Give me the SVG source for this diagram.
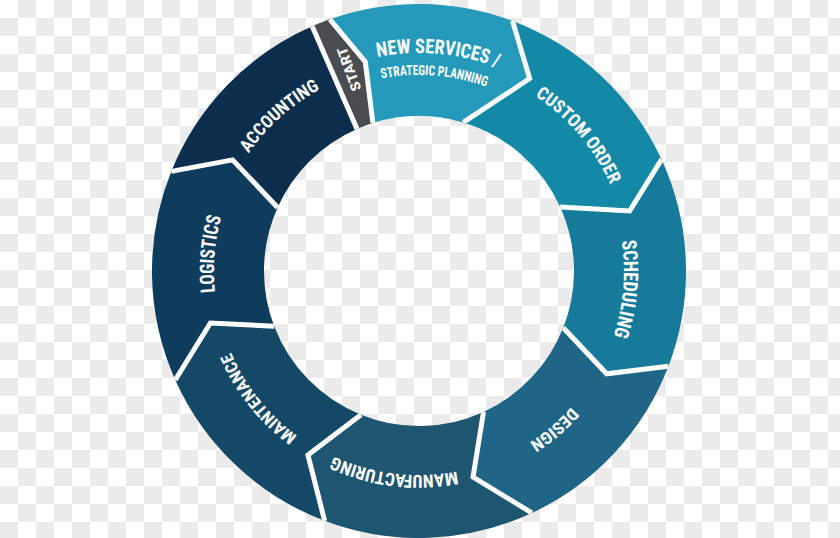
<svg xmlns="http://www.w3.org/2000/svg" width="840" height="538" viewBox="0 0 840 538">
  <defs>
    <pattern id="chk" width="36" height="36" patternUnits="userSpaceOnUse">
      <rect width="36" height="36" fill="#ffffff"/>
      <rect x="18" y="0" width="18" height="18" fill="#ebebeb"/>
      <rect x="0" y="18" width="18" height="18" fill="#ebebeb"/>
    </pattern>
    <clipPath id="ring">
      <path clip-rule="evenodd" d="M419,4 A267,267 0 1 1 418.99,4 Z M419,116 A155,155 0 1 0 419.01,116 Z"/>
    </clipPath>
    <path id="p-new" d="M264.85,116.85 A218,218 0 0 1 597.58,145.96"/>
    <path id="p-str" d="M279.20,133.62 A196,196 0 0 1 578.57,157.18"/>
    <path id="p-cus" d="M417.53,61.00 A210,210 0 0 1 626.06,306.02"/>
    <path id="p-sch" d="M563.96,126.04 A205,205 0 0 1 536.58,438.93"/>
    <path id="p-des" d="M622.99,269.22 A204,204 0 0 1 385.33,472.20"/>
    <path id="p-man" d="M558.13,420.20 A204,204 0 0 1 247.91,382.11"/>
    <path id="p-mai" d="M413.63,475.93 A205,205 0 0 1 218.12,230.13"/>
    <path id="p-log" d="M274.81,416.71 A205,205 0 0 1 300.54,103.69"/>
    <path id="p-acc" d="M212.13,278.22 A207,207 0 0 1 447.81,66.01"/>
  </defs>
  <style>
    .lbl { fill: #ffffff; font-family: "Liberation Sans Narrow", "Roboto Condensed", "DejaVu Sans Condensed", "Liberation Sans", sans-serif; font-weight: 700; text-anchor: middle; }
    .gap { fill: none; stroke: #ffffff; stroke-width: 5; stroke-linejoin: miter; }
  </style>
  <rect width="840" height="538" fill="url(#chk)"/>

  <g id="start">
    <path fill="#4a4c4f" d="M312.2,26.3 A267,267 0 0 1 329.87,19.32 L365.28,61.79 L372.91,123.01 A155,155 0 0 0 357.0,129.0 Z"/>
    <text class="lbl" font-size="14" transform="translate(349,69) rotate(-110)" dy="5" textLength="46" lengthAdjust="spacingAndGlyphs">START</text>
  </g>
  <g id="new-services">
    <path fill="#2599ba" d="M329.87,19.32 A267,267 0 0 1 512.51,20.91 L529.66,78.55 L463.28,122.46 A155,155 0 0 0 372.91,123.01 L365.28,61.79 Z"/>
    <text class="lbl" font-size="20"><textPath href="#p-new" startOffset="50%" textLength="122" lengthAdjust="spacingAndGlyphs">NEW SERVICES /</textPath></text>
    <text class="lbl" font-size="14"><textPath href="#p-str" startOffset="50%" textLength="106" lengthAdjust="spacingAndGlyphs">STRATEGIC PLANNING</textPath></text>
  </g>
  <g id="custom-order">
    <path fill="#1489a6" d="M512.51,20.91 A267,267 0 0 1 661.57,159.43 L629.62,211.0 L560.16,206.97 A155,155 0 0 0 463.28,122.46 L529.66,78.55 Z"/>
    <text class="lbl" font-size="18"><textPath href="#p-cus" startOffset="50%" textLength="118" lengthAdjust="spacingAndGlyphs">CUSTOM ORDER</textPath></text>
  </g>
  <g id="scheduling">
    <path fill="#167a9a" d="M661.57,159.43 A267,267 0 0 1 668.43,366.25 L606.71,373.77 L563.22,327.81 A155,155 0 0 0 560.16,206.97 L629.62,211.0 Z"/>
    <text class="lbl" font-size="20"><textPath href="#p-sch" startOffset="50%" textLength="96" lengthAdjust="spacingAndGlyphs">SCHEDULING</textPath></text>
  </g>
  <g id="design">
    <path fill="#1f6586" d="M668.43,366.25 A267,267 0 0 1 531.84,512.98 L473.05,477.03 L483.52,411.93 A155,155 0 0 0 563.22,327.81 L606.71,373.77 Z"/>
    <text class="lbl" font-size="17"><textPath href="#p-des" startOffset="50%" textLength="55" lengthAdjust="spacingAndGlyphs">DESIGN</textPath></text>
  </g>
  <g id="manufacturing">
    <path fill="#1e5571" d="M531.84,512.98 A267,267 0 0 1 324.62,520.76 L307.95,455.10 L360.94,414.71 A155,155 0 0 0 483.52,411.93 L473.05,477.03 Z"/>
    <text class="lbl" font-size="18"><textPath href="#p-man" startOffset="50%" textLength="126" lengthAdjust="spacingAndGlyphs">MANUFACTURING</textPath></text>
  </g>
  <g id="maintenance">
    <path fill="#134966" d="M324.62,520.76 A267,267 0 0 1 175.27,380.02 L210.39,323.01 L274.20,326.29 A155,155 0 0 0 360.94,414.71 L307.95,455.10 Z"/>
    <text class="lbl" font-size="17"><textPath href="#p-mai" startOffset="50%" textLength="108" lengthAdjust="spacingAndGlyphs">MAINTENANCE</textPath></text>
  </g>
  <g id="logistics">
    <path fill="#0d3c5d" d="M175.27,380.02 A267,267 0 0 1 171.27,171.41 L232.61,159.89 L277.62,207.46 A155,155 0 0 0 274.20,326.29 L210.39,323.01 Z"/>
    <text class="lbl" font-size="20"><textPath href="#p-log" startOffset="50%" textLength="76" lengthAdjust="spacingAndGlyphs">LOGISTICS</textPath></text>
  </g>
  <g id="accounting">
    <path fill="#0b2e4d" d="M171.27,171.41 A267,267 0 0 1 312.2,26.3 L357.0,129.0 A155,155 0 0 0 277.62,207.46 L232.61,159.89 Z"/>
    <text class="lbl" font-size="18"><textPath href="#p-acc" startOffset="50%" textLength="97" lengthAdjust="spacingAndGlyphs">ACCOUNTING</textPath></text>
  </g>

  <g id="separators" clip-path="url(#ring)">
    <polyline class="gap" points="312.2,26.3 357.0,129.0"/>
    <polyline class="gap" points="329.87,19.32 365.28,61.79 372.91,123.01"/>
    <polyline class="gap" points="512.51,20.91 529.66,78.55 463.28,122.46"/>
    <polyline class="gap" points="661.57,159.43 629.62,211.0 560.16,206.97"/>
    <polyline class="gap" points="668.43,366.25 606.71,373.77 563.22,327.81"/>
    <polyline class="gap" points="531.84,512.98 473.05,477.03 483.52,411.93"/>
    <polyline class="gap" points="324.62,520.76 307.95,455.10 360.94,414.71"/>
    <polyline class="gap" points="175.27,380.02 210.39,323.01 274.20,326.29"/>
    <polyline class="gap" points="171.27,171.41 232.61,159.89 277.62,207.46"/>
  </g>
</svg>
